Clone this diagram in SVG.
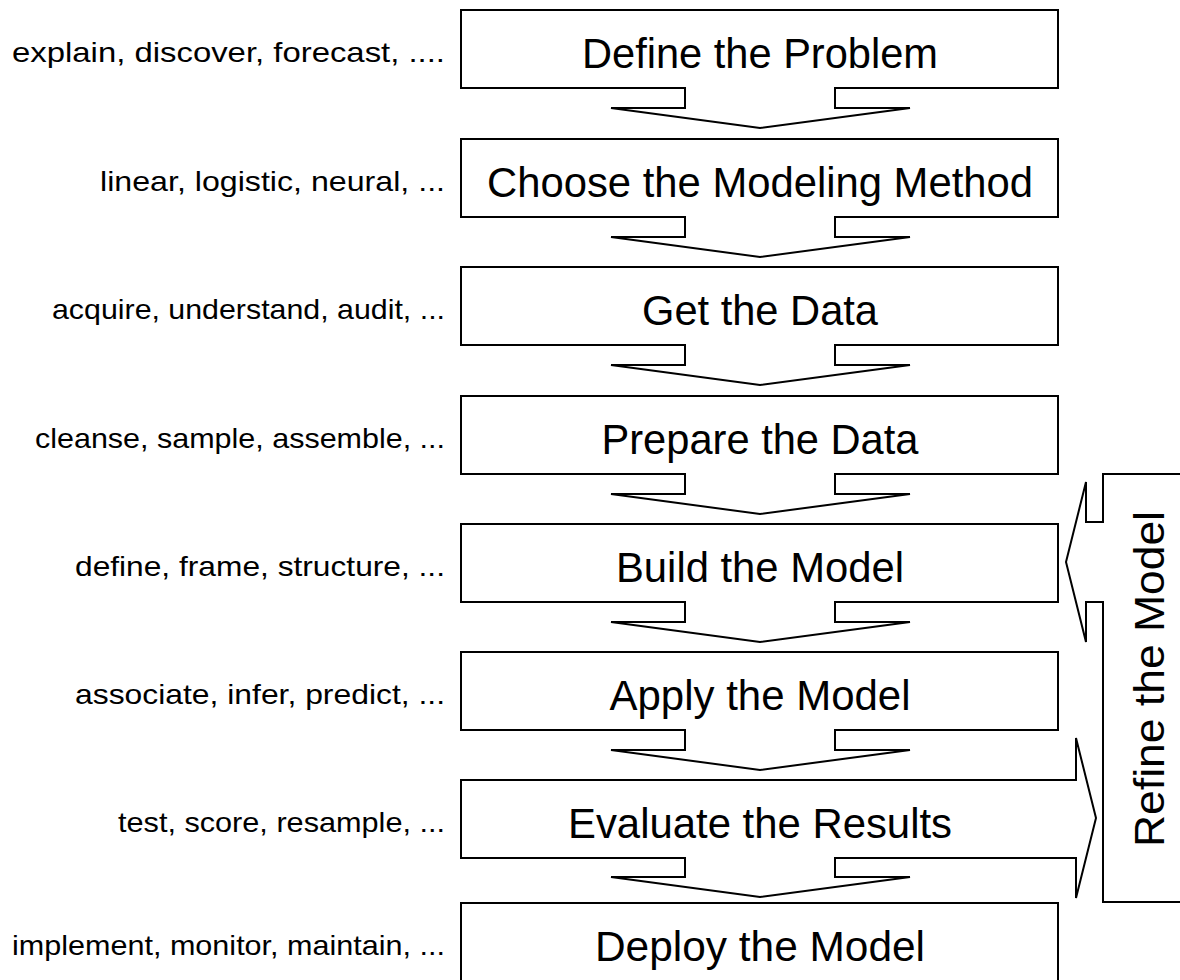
<svg xmlns="http://www.w3.org/2000/svg" width="1180" height="980" viewBox="0 0 1180 980">
<style>
.shape{fill:#fff;stroke:#000;stroke-width:2;stroke-linejoin:miter}
.box{font-family:"Liberation Sans",Arial,sans-serif;font-size:42px;fill:#000;text-anchor:middle}
.lbl{font-family:"Liberation Sans",Arial,sans-serif;font-size:28px;fill:#000;text-anchor:end}
</style>
<rect width="1180" height="980" fill="#fff"/>
<g id="node-define">
<path class="shape" d="M461,10 H1058 V88 H835 V108 H910 L760,128 L611,108 H685 V88 H461 Z"/>
<text class="box" x="760" y="68" textLength="356" lengthAdjust="spacingAndGlyphs">Define the Problem</text>
<text class="lbl" x="445" y="62" textLength="433" lengthAdjust="spacingAndGlyphs">explain, discover, forecast, ....</text>
</g>
<g id="node-choose">
<path class="shape" d="M461,139 H1058 V217 H835 V237 H910 L760,257 L611,237 H685 V217 H461 Z"/>
<text class="box" x="760" y="197" textLength="546" lengthAdjust="spacingAndGlyphs">Choose the Modeling Method</text>
<text class="lbl" x="445" y="191" textLength="345" lengthAdjust="spacingAndGlyphs">linear, logistic, neural, ...</text>
</g>
<g id="node-get">
<path class="shape" d="M461,267 H1058 V345 H835 V365 H910 L760,385 L611,365 H685 V345 H461 Z"/>
<text class="box" x="760" y="325" textLength="236" lengthAdjust="spacingAndGlyphs">Get the Data</text>
<text class="lbl" x="445" y="319" textLength="393" lengthAdjust="spacingAndGlyphs">acquire, understand, audit, ...</text>
</g>
<g id="node-prepare">
<path class="shape" d="M461,396 H1058 V474 H835 V494 H910 L760,514 L611,494 H685 V474 H461 Z"/>
<text class="box" x="760" y="454" textLength="317" lengthAdjust="spacingAndGlyphs">Prepare the Data</text>
<text class="lbl" x="445" y="448" textLength="410" lengthAdjust="spacingAndGlyphs">cleanse, sample, assemble, ...</text>
</g>
<g id="node-build">
<path class="shape" d="M461,524 H1058 V602 H835 V622 H910 L760,642 L611,622 H685 V602 H461 Z"/>
<text class="box" x="760" y="582" textLength="288" lengthAdjust="spacingAndGlyphs">Build the Model</text>
<text class="lbl" x="445" y="576" textLength="370" lengthAdjust="spacingAndGlyphs">define, frame, structure, ...</text>
</g>
<g id="node-apply">
<path class="shape" d="M461,652 H1058 V730 H835 V750 H910 L760,770 L611,750 H685 V730 H461 Z"/>
<text class="box" x="760" y="710" textLength="301" lengthAdjust="spacingAndGlyphs">Apply the Model</text>
<text class="lbl" x="445" y="704" textLength="370" lengthAdjust="spacingAndGlyphs">associate, infer, predict, ...</text>
</g>
<g id="node-evaluate">
<path class="shape" d="M461,780 H1076 V738 L1096,818 L1076,898 V858 H835 V877 H910 L760,897 L611,877 H685 V858 H461 Z"/>
<text class="box" x="760" y="838" textLength="384" lengthAdjust="spacingAndGlyphs">Evaluate the Results</text>
<text class="lbl" x="445" y="832" textLength="327" lengthAdjust="spacingAndGlyphs">test, score, resample, ...</text>
</g>
<g id="node-deploy">
<path class="shape" d="M461,903 H1058 V990 H461 Z"/>
<text class="box" x="760" y="961" textLength="330" lengthAdjust="spacingAndGlyphs">Deploy the Model</text>
<text class="lbl" x="445" y="955" textLength="433" lengthAdjust="spacingAndGlyphs">implement, monitor, maintain, ...</text>
</g>
<g id="connectors">
<path class="shape" d="M1190,474 H1103 V522 H1086 V482 L1066,562 L1086,642 V602 H1103 V902 H1190 Z"/>
<text class="box" transform="translate(1164,679) rotate(-90)" x="0" y="0" textLength="336" lengthAdjust="spacingAndGlyphs">Refine the Model</text>
</g>
</svg>
